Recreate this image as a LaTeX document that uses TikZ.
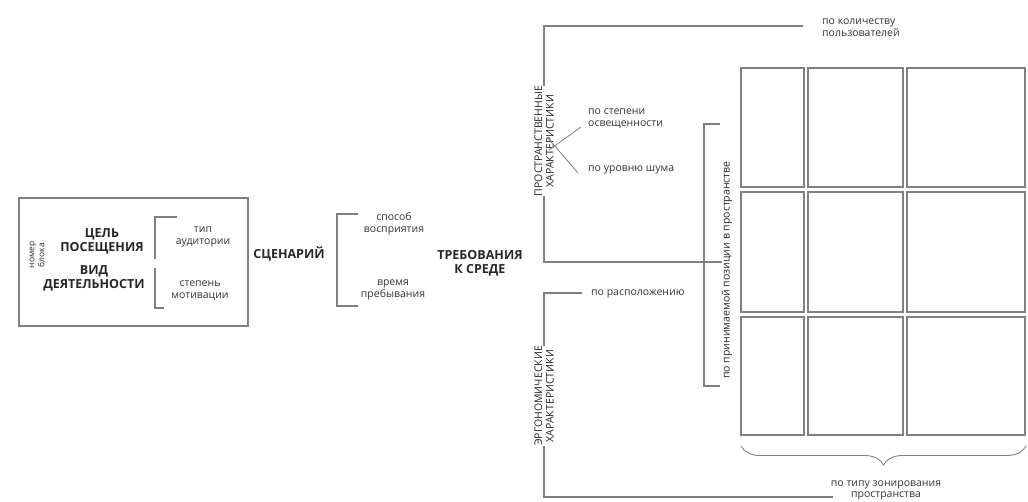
\documentclass[tikz,border=0pt]{standalone}
\usepackage{fontspec}
\setmainfont{Open Sans}
\usetikzlibrary{positioning,decorations.pathreplacing}

\tikzset{
  liniya/.style={draw=gray, line width=1.1pt},
  zag/.style={font=\bfseries\fontsize{12.5}{14}\selectfont, align=center, text=black!85},
  pod/.style={font=\fontsize{10.5}{12}\selectfont, align=center, text=black!80},
  podl/.style={font=\fontsize{10.5}{12}\selectfont, align=left, text=black!80, anchor=west, inner sep=0pt},
  povorot/.style={font=\fontsize{10.5}{11.5}\selectfont, align=center, rotate=90, text=black!85, inner sep=0pt},
}

\begin{document}
\begin{tikzpicture}[x=1pt,y=-1pt]
\useasboundingbox (0,0) rectangle (1028,502);

% --- блок слева ---
\draw[liniya] (19,198) rectangle (248,326);
\node[povorot, font=\fontsize{8.5}{10}\selectfont] (nomer) at (37,255) {номер\\блока};
\node[zag] (cel) at (102,241) {ЦЕЛЬ\\ПОСЕЩЕНИЯ};
\node[zag] (vid) at (94,278) {ВИД\\ДЕЯТЕЛЬНОСТИ};
\node[pod] (tip) at (203,237) {тип\\аудитории};
\node[pod] (motiv) at (200,291) {степень\\мотивации};
\coordinate (s1a) at (177,217);
\coordinate (s1b) at (155,259);
\coordinate (s1c) at (155,268);
\coordinate (s1d) at (164,308);
\draw[liniya] (s1a) -| (s1b);
\draw[liniya] (s1c) |- (s1d);

% --- сценарий ---
\node[zag] (scen) at (289,254) {СЦЕНАРИЙ};
\node[pod] (sposob) at (394,224) {способ\\восприятия};
\node[pod] (vremya) at (393,290) {время\\пребывания};
\coordinate (s2a) at (358,214);
\coordinate (s2b) at (337,260);
\coordinate (s2c) at (358,306);
\draw[liniya] (s2a) -| (s2b) |- (s2c);

\node[zag] (treb) at (480,263) {ТРЕБОВАНИЯ\\К СРЕДЕ};

% --- пространственные характеристики ---
\node[povorot] (prostr) at (544,141) {ПРОСТРАНСТВЕННЫЕ\\ХАРАКТЕРИСТИКИ};
\node[podl] (kolich) at (822,28) {по количеству\\пользователей};
\node[podl] (osv) at (588,119) {по степени\\освещенности};
\node[podl] (shum) at (588,170) {по уровню шума};
\coordinate (p1) at (803,26);
\coordinate (p2) at (722,262);
\draw[liniya] (p1) -| (prostr.east);
\draw[liniya] (prostr.west) |- (p2);
\draw[liniya, line width=0.8pt] ([xshift=5pt,yshift=-9pt]prostr.center) -- ([xshift=-7pt,yshift=-8pt]osv.west);
\draw[liniya, line width=0.8pt] ([xshift=3pt,yshift=4pt]prostr.center) -- ([xshift=-10pt,yshift=-3pt]shum.west);

% --- позиция в пространстве ---
\node[povorot, font=\fontsize{10.5}{12}\selectfont] (pozic) at (727,270) {по принимаемой позиции в пространстве};
\coordinate (k1) at (720,124);
\coordinate (k2) at (704,254);
\coordinate (k3) at (720,386);
\draw[liniya] (k1) -| (k2) |- (k3);

% --- зоны ---
\foreach \xa/\xb in {741/804, 808/903, 907/1025}
  \foreach \ya/\yb in {68/187, 192/312, 317/435}
    \draw[liniya] (\xa,\ya) rectangle (\xb,\yb);
\coordinate (z1) at (741,446);
\coordinate (z2) at (1026,446);
\draw[liniya, line width=0.9pt, decorate, decoration={brace, mirror, amplitude=19pt}] (z1) -- (z2);
\node[pod, font=\fontsize{10.5}{11}\selectfont] (zonir) at (886,490) {по типу зонирования\\пространства};

% --- эргономические характеристики ---
\node[povorot] (ergo) at (544,396) {ЭРГОНОМИЧЕСКИЕ\\ХАРАКТЕРИСТИКИ};
\node[podl] (raspol) at (591,294) {по расположению};
\coordinate (e1) at (582,293);
\coordinate (e2) at (833,497);
\draw[liniya] (e1) -| (ergo.east);
\draw[liniya] (ergo.west) |- (e2);
\end{tikzpicture}
\end{document}
